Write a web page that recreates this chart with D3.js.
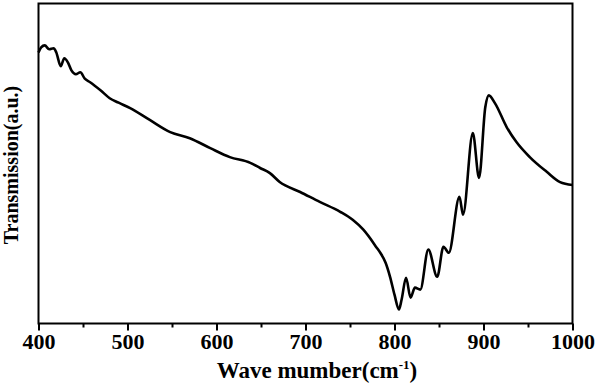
<!DOCTYPE html>
<html>
<head>
<meta charset="utf-8">
<style>
  body { margin: 0; background: #fff; }
  svg text { font-family: "Liberation Serif", "Times New Roman", serif; font-weight: bold; fill: #000; }
  .spectrum { fill: none; stroke: #000; stroke-width: 2.6; stroke-linejoin: round; }
</style>
</head>
<body>
<svg class="chart"></svg>
<script src="https://cdn.jsdelivr.net/npm/d3@7"></script>
<script>
// wave number (cm-1) and transmission (a.u.)
var waveNumber = [400, 403, 407, 412, 417, 420, 425, 429, 433, 437, 442, 447, 452, 458, 470,
  480, 490, 503, 525, 548, 570, 593, 615, 638, 649, 660, 671, 694, 716, 739, 753, 765,
  780, 784, 790, 795, 800, 805, 808, 813, 818, 823, 829, 838, 848, 855, 861, 873, 877, 888,
  895, 902, 906, 913, 926, 937, 952, 971, 986, 1000];
var transmission = [84.7, 86.3, 86.9, 85.7, 86.0, 84.7, 80.4, 82.9, 81.6, 79.1, 77.9, 78.5, 76.5, 75.4, 72.8,
  70.4, 69.0, 67.3, 63.6, 59.8, 57.9, 54.8, 52.0, 50.2, 48.6, 47.0, 44.2, 41.1, 38.0, 34.9, 32.4, 29.3,
  23.7, 22.1, 19.0, 14.6, 9.0, 4.4, 7.5, 14.3, 8.1, 11.2, 10.6, 23.1, 14.6, 24.0, 22.1, 39.6, 34.0, 59.5,
  45.5, 67.6, 71.3, 68.8, 61.4, 56.7, 52.0, 47.4, 44.2, 43.3];
var xTicks = [400, 500, 600, 700, 800, 900, 1000];
var xMinorTicks = [450, 550, 650, 750, 850, 950];
var xTitle = "Wave mumber(cm";
var yTitle = "Transmission(a.u.)";

var w = 605, h = 384;
var mLeft = 38.5, mRight = 572.5, mTop = 3.5, mBottom = 323.5;

var svg = d3.select('.chart').attr('width', w).attr('height', h);

var x = d3.scaleLinear().domain([400, 1000]).range([mLeft, mRight]);
var y = d3.scaleLinear().domain([0, 100]).range([mBottom, mTop]);

// frame
svg.append('rect')
  .attr('x', mLeft).attr('y', mTop)
  .attr('width', mRight - mLeft).attr('height', mBottom - mTop)
  .attr('fill', 'none').attr('stroke', '#000').attr('stroke-width', 2);

// bottom axis
var axis = svg.append('g').attr('transform', 'translate(0,' + mBottom + ')');
axis.call(d3.axisBottom(x).tickValues(xTicks).tickSize(7).tickPadding(3).tickFormat(d3.format('d')));
axis.select('.domain').remove();
axis.selectAll('line').attr('stroke-width', 2);
axis.selectAll('text').style('font-size', '22px').style('font-family', '"Liberation Serif", serif').style('font-weight', 'bold');

var minor = svg.append('g').attr('transform', 'translate(0,' + mBottom + ')');
minor.call(d3.axisBottom(x).tickValues(xMinorTicks).tickSize(4).tickFormat(''));
minor.select('.domain').remove();
minor.selectAll('line').attr('stroke-width', 2);

// titles
var xt = svg.append('text')
  .attr('x', 317).attr('y', 378)
  .attr('text-anchor', 'middle')
  .style('font-size', '23px');
xt.append('tspan').text(xTitle);
xt.append('tspan').attr('dy', -9).style('font-size', '13px').text('-1');
xt.append('tspan').attr('dy', 9).text(')');

svg.append('text')
  .attr('transform', 'translate(18,165) rotate(-90)')
  .attr('text-anchor', 'middle')
  .style('font-size', '20px')
  .text(yTitle);

// spectrum
var pts = waveNumber.map(function(d, i) { return [d, transmission[i]]; });
svg.append('path')
  .datum(pts)
  .attr('class', 'spectrum')
  .attr('d', d3.line()
    .curve(d3.curveMonotoneX)
    .x(function(d) { return x(d[0]); })
    .y(function(d) { return y(d[1]); }));
</script>
</body>
</html>
